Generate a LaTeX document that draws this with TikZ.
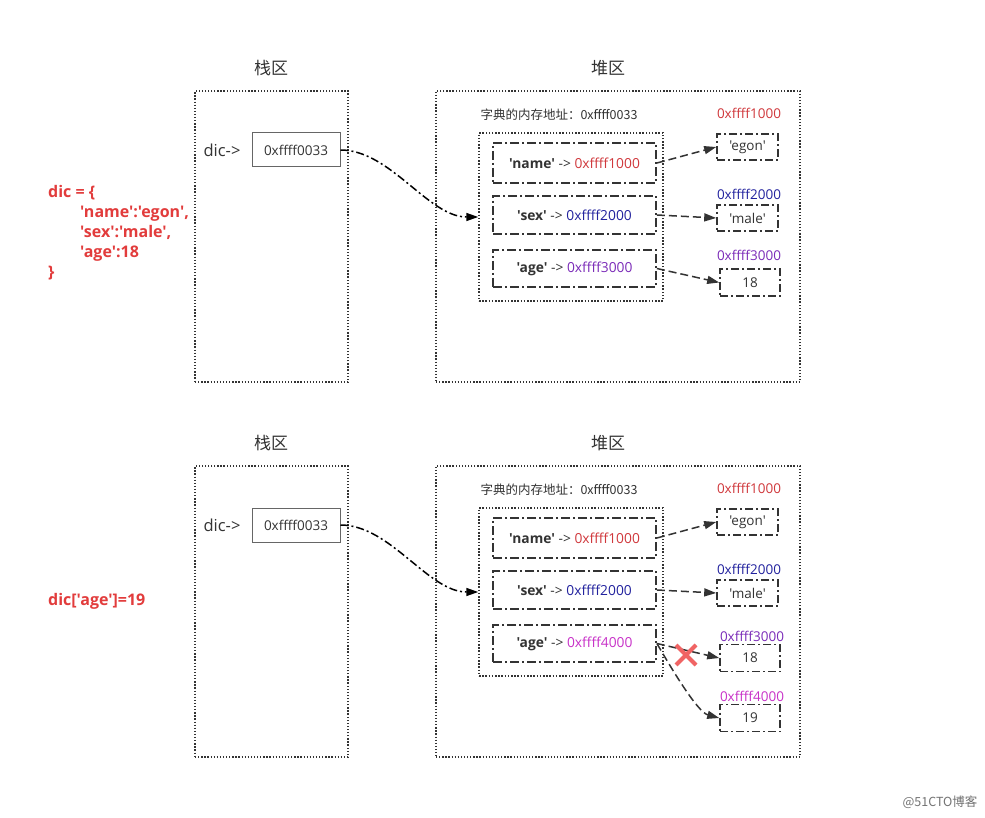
\documentclass[tikz,border=0pt]{standalone}
\usepackage{fontspec}
\setmainfont{Open Sans}[Ligatures=TeXOff]
\newfontfamily\cjk{Noto Sans CJK SC}
\usetikzlibrary{arrows.meta}
\definecolor{cRed}{HTML}{D0383C}
\definecolor{cCode}{HTML}{E23C3C}
\definecolor{cBlue}{HTML}{22229E}
\definecolor{cPurple}{HTML}{7B2BB8}
\definecolor{cMag}{HTML}{C832C8}
\definecolor{cLine}{HTML}{333333}
\definecolor{cX}{HTML}{F06464}
\tikzset{
  area/.style={draw=cLine, line width=1.3pt, dash pattern=on 1.3pt off 1.8pt, inner sep=0pt},
  dictbox/.style={draw=cLine, line width=1.5pt, dash pattern=on 1.5pt off 1.7pt, inner sep=0pt},
  addrbox/.style={draw=black!60, line width=1pt, inner sep=0pt, font=\fontsize{13.5}{15}\selectfont, text=cLine},
  entry/.style={draw=cLine, line width=1.8pt, dash pattern=on 9pt off 3pt on 2pt off 3pt, inner sep=0pt,
     minimum width=163pt, font=\fontsize{13.8}{15}\selectfont, text=cLine},
  valbox/.style={draw=cLine, line width=1.6pt, dash pattern=on 8pt off 3pt on 2pt off 3pt, inner sep=0pt,
     font=\fontsize{13.5}{15}\selectfont, text=cLine},
  title/.style={font=\cjk\fontsize{17}{19}\selectfont, text=cLine},
  small/.style={font=\cjk\fontsize{12.5}{14}\selectfont, text=cLine},
  addrlbl/.style={font=\fontsize{13.5}{15}\selectfont},
  code/.style={font=\bfseries\fontsize{16}{18}\selectfont, text=cCode, anchor=base west, inner sep=0pt},
  dicl/.style={font=\fontsize{16.5}{18}\selectfont, text=cLine},
  ptr/.style={draw=cLine, line width=1.5pt, dash pattern=on 8pt off 4pt, -{Triangle[length=12pt,width=8pt]}},
  sptr/.style={draw=black, line width=1.5pt, dash pattern=on 8pt off 3pt on 2pt off 3pt, -{Triangle[length=12pt,width=8pt]}},
  cross/.style={draw=cX, line width=4pt}
}
\begin{document}
\begin{tikzpicture}[x=1pt,y=-1pt]
\useasboundingbox (0,0) rectangle (985,818);
\fill[white] (0,0) rectangle (985,818);

% ---------- left code ----------
\node[code] (c1) at (48,198) {dic = \{};
\node[code] (c2) at (80,218) {'name':'egon',};
\node[code] (c3) at (80,238) {'sex':'male',};
\node[code] (c4) at (80,258) {'age':18};
\node[code] (c5) at (48,278) {\}};
\node[code] (c6) at (48,605) {dic['age']=19};

% ---------- top section ----------
\node[title] (t1) at (271,68) {栈区};
\node[title] (t2) at (608,68) {堆区};
\node[area, minimum width=153pt, minimum height=291pt] (stack1) at (271.5,236.5) {};
\node[area, minimum width=364pt, minimum height=291pt] (heap1) at (618,236.5) {};
\node[dicl] (dic1) at (222,150) {dic->};
\node[addrbox, minimum width=88pt, minimum height=34pt] (addr1) at (296,150) {0xffff0033};
\node[small] (lbl1) at (559,115) {字典的内存地址：0xffff0033};
\node[dictbox, minimum width=184pt, minimum height=168pt] (dict1) at (571,217) {};
\node[entry, minimum height=40pt] (name1) at (574.5,163) {\textbf{'name'} -> \textcolor{cRed}{0xffff1000}};
\node[entry, minimum height=38pt] (sex1) at (574.5,215) {\textbf{'sex'} -> \textcolor{cBlue}{0xffff2000}};
\node[entry, minimum height=37pt] (age1) at (574.5,268.5) {\textbf{'age'} -> \textcolor{cPurple}{0xffff3000}};
\node[addrlbl, text=cRed] (a1000) at (749,113) {0xffff1000};
\node[valbox, minimum width=61pt, minimum height=26pt] (egon1) at (747.5,147) {'egon'};
\node[addrlbl, text=cBlue] (a2000) at (749,194) {0xffff2000};
\node[valbox, minimum width=61pt, minimum height=26pt] (male1) at (747.5,218) {'male'};
\node[addrlbl, text=cPurple] (a3000) at (749,255) {0xffff3000};
\node[valbox, minimum width=60pt, minimum height=27pt] (v18a) at (750,282.5) {18};

\draw[sptr] (addr1.east) .. controls +(50,0) and +(-50,0) .. (dict1.west);
\draw[ptr] (name1.east) -- (egon1.west);
\draw[ptr] (sex1.east) -- (male1.west);
\draw[ptr] (age1.east) -- (v18a.west);

% ---------- bottom section ----------
\node[title] (t3) at (271,443) {栈区};
\node[title] (t4) at (608,443) {堆区};
\node[area, minimum width=153pt, minimum height=291pt] (stack2) at (271.5,611.5) {};
\node[area, minimum width=364pt, minimum height=291pt] (heap2) at (618,611.5) {};
\node[dicl] (dic2) at (222,525) {dic->};
\node[addrbox, minimum width=88pt, minimum height=34pt] (addr2) at (296,525) {0xffff0033};
\node[small] (lbl2) at (559,490) {字典的内存地址：0xffff0033};
\node[dictbox, minimum width=184pt, minimum height=168pt] (dict2) at (571,592) {};
\node[entry, minimum height=40pt] (name2) at (574.5,538) {\textbf{'name'} -> \textcolor{cRed}{0xffff1000}};
\node[entry, minimum height=38pt] (sex2) at (574.5,590) {\textbf{'sex'} -> \textcolor{cBlue}{0xffff2000}};
\node[entry, minimum height=37pt] (age2) at (574.5,643.5) {\textbf{'age'} -> \textcolor{cMag}{0xffff4000}};
\node[addrlbl, text=cRed] (b1000) at (749,488) {0xffff1000};
\node[valbox, minimum width=61pt, minimum height=26pt] (egon2) at (747.5,522) {'egon'};
\node[addrlbl, text=cBlue] (b2000) at (749,569) {0xffff2000};
\node[valbox, minimum width=61pt, minimum height=26pt] (male2) at (747.5,593) {'male'};
\node[addrlbl, text=cPurple] (b3000) at (752,636) {0xffff3000};
\node[valbox, minimum width=60pt, minimum height=27pt] (v18b) at (750,658) {18};
\node[addrlbl, text=cMag] (b4000) at (752,696) {0xffff4000};
\node[valbox, minimum width=60pt, minimum height=27pt] (v19) at (750,718) {19};

\draw[sptr] (addr2.east) .. controls +(50,0) and +(-50,0) .. (dict2.west);
\draw[ptr] (name2.east) -- (egon2.west);
\draw[ptr] (sex2.east) -- (male2.west);
\draw[ptr] (age2.east) -- (v18b.west);
\draw[ptr] (age2.east) .. controls +(14,24) and +(-22,-6) .. (v19.west);

\coordinate (xc) at (686,655);
\draw[cross] ([shift={(-10,-10)}]xc) -- ([shift={(10,10)}]xc);
\draw[cross] ([shift={(10,-10)}]xc) -- ([shift={(-10,10)}]xc);

% watermark
\node[font=\cjk\fontsize{12.5}{14}\selectfont, text=black!55] (wm) at (940,802) {@51CTO博客};
\end{tikzpicture}
\end{document}
